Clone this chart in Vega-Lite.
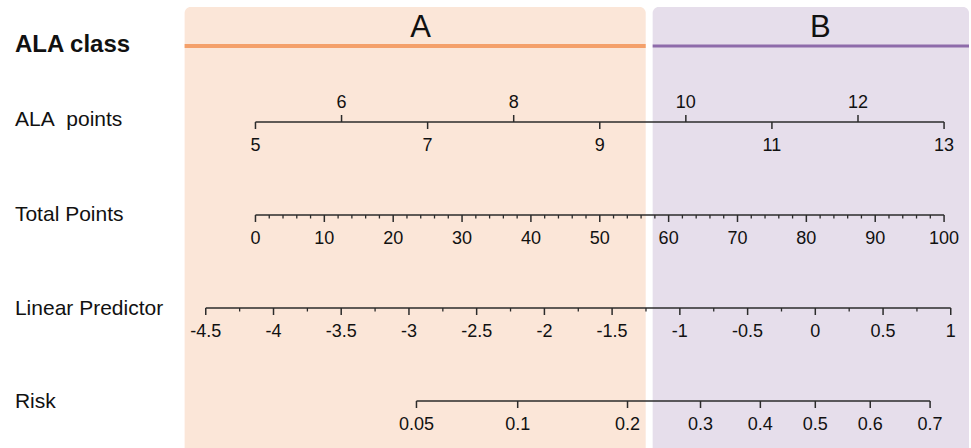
{
  "$schema": "https://vega.github.io/schema/vega-lite/v6.json",
  "width": 971,
  "height": 448,
  "autosize": {"type": "fit", "contains": "padding"},
  "padding": 0,
  "background": "white",
  "config": {"view": {"stroke": null}, "font": "Liberation Sans"},
  "datasets": {
    "panels": [
      {"cls": "A", "x0": -10.29, "x1": 56.67, "top": 0.07, "bottom": 4.48, "lx": 23.99, "ly": 0.37},
      {"cls": "B", "x0": 57.68, "x1": 103.62, "top": 0.07, "bottom": 4.48, "lx": 82.03, "ly": 0.37}
    ],
    "classlines": [
      {"cls": "A", "x0": -10.29, "x1": 56.67, "level": 0.46},
      {"cls": "B", "x0": 57.68, "x1": 103.62, "level": 0.46}
    ],
    "axislines": [
      {"axis": "ALA points", "x0": 0, "x1": 100, "level": 1.22},
      {"axis": "Total Points", "x0": 0, "x1": 100, "level": 2.15},
      {"axis": "Linear Predictor", "x0": -7.22, "x1": 100.97, "level": 3.08},
      {"axis": "Risk", "x0": 23.38, "x1": 97.97, "level": 4.01}
    ],
    "rowlabels": [
      {"name": "ALA class", "lx": -34.93, "level": 0.45},
      {"name": "ALA\u00a0 points", "lx": -34.93, "level": 1.2},
      {"name": "Total Points", "lx": -34.93, "level": 2.15},
      {"name": "Linear Predictor", "lx": -34.93, "level": 3.09},
      {"name": "Risk", "lx": -34.93, "level": 4.015}
    ],
    "ticks": [
      {"axis": "ALA points", "pos": 0, "level": 1.22, "kind": "down", "label": "5"},
      {"axis": "ALA points", "pos": 12.5, "level": 1.22, "kind": "up", "label": "6"},
      {"axis": "ALA points", "pos": 25, "level": 1.22, "kind": "down", "label": "7"},
      {"axis": "ALA points", "pos": 37.5, "level": 1.22, "kind": "up", "label": "8"},
      {"axis": "ALA points", "pos": 50, "level": 1.22, "kind": "down", "label": "9"},
      {"axis": "ALA points", "pos": 62.5, "level": 1.22, "kind": "up", "label": "10"},
      {"axis": "ALA points", "pos": 75, "level": 1.22, "kind": "down", "label": "11"},
      {"axis": "ALA points", "pos": 87.5, "level": 1.22, "kind": "up", "label": "12"},
      {"axis": "ALA points", "pos": 100, "level": 1.22, "kind": "down", "label": "13"},

      {"axis": "Total Points", "pos": 0, "level": 2.15, "kind": "down", "label": "0"},
      {"axis": "Total Points", "pos": 10, "level": 2.15, "kind": "down", "label": "10"},
      {"axis": "Total Points", "pos": 20, "level": 2.15, "kind": "down", "label": "20"},
      {"axis": "Total Points", "pos": 30, "level": 2.15, "kind": "down", "label": "30"},
      {"axis": "Total Points", "pos": 40, "level": 2.15, "kind": "down", "label": "40"},
      {"axis": "Total Points", "pos": 50, "level": 2.15, "kind": "down", "label": "50"},
      {"axis": "Total Points", "pos": 60, "level": 2.15, "kind": "down", "label": "60"},
      {"axis": "Total Points", "pos": 70, "level": 2.15, "kind": "down", "label": "70"},
      {"axis": "Total Points", "pos": 80, "level": 2.15, "kind": "down", "label": "80"},
      {"axis": "Total Points", "pos": 90, "level": 2.15, "kind": "down", "label": "90"},
      {"axis": "Total Points", "pos": 100, "level": 2.15, "kind": "down", "label": "100"},
      {"axis": "Total Points", "pos": 2, "level": 2.15, "kind": "minor", "label": ""},
      {"axis": "Total Points", "pos": 4, "level": 2.15, "kind": "minor", "label": ""},
      {"axis": "Total Points", "pos": 6, "level": 2.15, "kind": "minor", "label": ""},
      {"axis": "Total Points", "pos": 8, "level": 2.15, "kind": "minor", "label": ""},
      {"axis": "Total Points", "pos": 12, "level": 2.15, "kind": "minor", "label": ""},
      {"axis": "Total Points", "pos": 14, "level": 2.15, "kind": "minor", "label": ""},
      {"axis": "Total Points", "pos": 16, "level": 2.15, "kind": "minor", "label": ""},
      {"axis": "Total Points", "pos": 18, "level": 2.15, "kind": "minor", "label": ""},
      {"axis": "Total Points", "pos": 22, "level": 2.15, "kind": "minor", "label": ""},
      {"axis": "Total Points", "pos": 24, "level": 2.15, "kind": "minor", "label": ""},
      {"axis": "Total Points", "pos": 26, "level": 2.15, "kind": "minor", "label": ""},
      {"axis": "Total Points", "pos": 28, "level": 2.15, "kind": "minor", "label": ""},
      {"axis": "Total Points", "pos": 32, "level": 2.15, "kind": "minor", "label": ""},
      {"axis": "Total Points", "pos": 34, "level": 2.15, "kind": "minor", "label": ""},
      {"axis": "Total Points", "pos": 36, "level": 2.15, "kind": "minor", "label": ""},
      {"axis": "Total Points", "pos": 38, "level": 2.15, "kind": "minor", "label": ""},
      {"axis": "Total Points", "pos": 42, "level": 2.15, "kind": "minor", "label": ""},
      {"axis": "Total Points", "pos": 44, "level": 2.15, "kind": "minor", "label": ""},
      {"axis": "Total Points", "pos": 46, "level": 2.15, "kind": "minor", "label": ""},
      {"axis": "Total Points", "pos": 48, "level": 2.15, "kind": "minor", "label": ""},
      {"axis": "Total Points", "pos": 52, "level": 2.15, "kind": "minor", "label": ""},
      {"axis": "Total Points", "pos": 54, "level": 2.15, "kind": "minor", "label": ""},
      {"axis": "Total Points", "pos": 56, "level": 2.15, "kind": "minor", "label": ""},
      {"axis": "Total Points", "pos": 58, "level": 2.15, "kind": "minor", "label": ""},
      {"axis": "Total Points", "pos": 62, "level": 2.15, "kind": "minor", "label": ""},
      {"axis": "Total Points", "pos": 64, "level": 2.15, "kind": "minor", "label": ""},
      {"axis": "Total Points", "pos": 66, "level": 2.15, "kind": "minor", "label": ""},
      {"axis": "Total Points", "pos": 68, "level": 2.15, "kind": "minor", "label": ""},
      {"axis": "Total Points", "pos": 72, "level": 2.15, "kind": "minor", "label": ""},
      {"axis": "Total Points", "pos": 74, "level": 2.15, "kind": "minor", "label": ""},
      {"axis": "Total Points", "pos": 76, "level": 2.15, "kind": "minor", "label": ""},
      {"axis": "Total Points", "pos": 78, "level": 2.15, "kind": "minor", "label": ""},
      {"axis": "Total Points", "pos": 82, "level": 2.15, "kind": "minor", "label": ""},
      {"axis": "Total Points", "pos": 84, "level": 2.15, "kind": "minor", "label": ""},
      {"axis": "Total Points", "pos": 86, "level": 2.15, "kind": "minor", "label": ""},
      {"axis": "Total Points", "pos": 88, "level": 2.15, "kind": "minor", "label": ""},
      {"axis": "Total Points", "pos": 92, "level": 2.15, "kind": "minor", "label": ""},
      {"axis": "Total Points", "pos": 94, "level": 2.15, "kind": "minor", "label": ""},
      {"axis": "Total Points", "pos": 96, "level": 2.15, "kind": "minor", "label": ""},
      {"axis": "Total Points", "pos": 98, "level": 2.15, "kind": "minor", "label": ""},

      {"axis": "Linear Predictor", "pos": -7.22, "level": 3.08, "kind": "down", "label": "-4.5"},
      {"axis": "Linear Predictor", "pos": 2.62, "level": 3.08, "kind": "down", "label": "-4"},
      {"axis": "Linear Predictor", "pos": 12.45, "level": 3.08, "kind": "down", "label": "-3.5"},
      {"axis": "Linear Predictor", "pos": 22.29, "level": 3.08, "kind": "down", "label": "-3"},
      {"axis": "Linear Predictor", "pos": 32.12, "level": 3.08, "kind": "down", "label": "-2.5"},
      {"axis": "Linear Predictor", "pos": 41.96, "level": 3.08, "kind": "down", "label": "-2"},
      {"axis": "Linear Predictor", "pos": 51.79, "level": 3.08, "kind": "down", "label": "-1.5"},
      {"axis": "Linear Predictor", "pos": 61.63, "level": 3.08, "kind": "down", "label": "-1"},
      {"axis": "Linear Predictor", "pos": 71.47, "level": 3.08, "kind": "down", "label": "-0.5"},
      {"axis": "Linear Predictor", "pos": 81.3, "level": 3.08, "kind": "down", "label": "0"},
      {"axis": "Linear Predictor", "pos": 91.14, "level": 3.08, "kind": "down", "label": "0.5"},
      {"axis": "Linear Predictor", "pos": 100.97, "level": 3.08, "kind": "down", "label": "1"},
      {"axis": "Linear Predictor", "pos": -2.3, "level": 3.08, "kind": "minor", "label": ""},
      {"axis": "Linear Predictor", "pos": 7.54, "level": 3.08, "kind": "minor", "label": ""},
      {"axis": "Linear Predictor", "pos": 17.37, "level": 3.08, "kind": "minor", "label": ""},
      {"axis": "Linear Predictor", "pos": 27.21, "level": 3.08, "kind": "minor", "label": ""},
      {"axis": "Linear Predictor", "pos": 37.04, "level": 3.08, "kind": "minor", "label": ""},
      {"axis": "Linear Predictor", "pos": 46.88, "level": 3.08, "kind": "minor", "label": ""},
      {"axis": "Linear Predictor", "pos": 56.71, "level": 3.08, "kind": "minor", "label": ""},
      {"axis": "Linear Predictor", "pos": 66.55, "level": 3.08, "kind": "minor", "label": ""},
      {"axis": "Linear Predictor", "pos": 76.39, "level": 3.08, "kind": "minor", "label": ""},
      {"axis": "Linear Predictor", "pos": 86.22, "level": 3.08, "kind": "minor", "label": ""},
      {"axis": "Linear Predictor", "pos": 96.06, "level": 3.08, "kind": "minor", "label": ""},

      {"axis": "Risk", "pos": 23.38, "level": 4.01, "kind": "down", "label": "0.05"},
      {"axis": "Risk", "pos": 38.08, "level": 4.01, "kind": "down", "label": "0.1"},
      {"axis": "Risk", "pos": 54.03, "level": 4.01, "kind": "down", "label": "0.2"},
      {"axis": "Risk", "pos": 64.63, "level": 4.01, "kind": "down", "label": "0.3"},
      {"axis": "Risk", "pos": 73.32, "level": 4.01, "kind": "down", "label": "0.4"},
      {"axis": "Risk", "pos": 81.3, "level": 4.01, "kind": "down", "label": "0.5"},
      {"axis": "Risk", "pos": 89.28, "level": 4.01, "kind": "down", "label": "0.6"},
      {"axis": "Risk", "pos": 97.97, "level": 4.01, "kind": "down", "label": "0.7"}
    ]
  },
  "layer": [
    {
      "data": {"name": "panels"},
      "mark": {"type": "rect", "cornerRadiusTopLeft": 6, "cornerRadiusTopRight": 6},
      "encoding": {
        "x": {"field": "x0", "type": "quantitative", "scale": {"domain": [-37.1, 103.62], "nice": false, "zero": false}, "axis": null},
        "x2": {"field": "x1"},
        "y": {"field": "top", "type": "quantitative", "scale": {"domain": [0, 4.48], "reverse": true, "nice": false, "zero": false}, "axis": null},
        "y2": {"field": "bottom"},
        "fill": {"field": "cls", "type": "nominal", "scale": {"domain": ["A", "B"], "range": ["#FBE6D8", "#E6DEEB"]}, "legend": null}
      }
    },
    {
      "data": {"name": "panels"},
      "mark": {"type": "text", "fontSize": 31, "align": "center", "baseline": "alphabetic", "color": "#111111"},
      "encoding": {
        "x": {"field": "lx", "type": "quantitative", "scale": {"domain": [-37.1, 103.62], "nice": false, "zero": false}, "axis": null},
        "y": {"field": "ly", "type": "quantitative", "scale": {"domain": [0, 4.48], "reverse": true, "nice": false, "zero": false}, "axis": null},
        "text": {"field": "cls"}
      }
    },
    {
      "data": {"name": "classlines"},
      "mark": {"type": "rule"},
      "encoding": {
        "x": {"field": "x0", "type": "quantitative", "scale": {"domain": [-37.1, 103.62], "nice": false, "zero": false}, "axis": null},
        "x2": {"field": "x1"},
        "y": {"field": "level", "type": "quantitative", "scale": {"domain": [0, 4.48], "reverse": true, "nice": false, "zero": false}, "axis": null},
        "stroke": {"field": "cls", "type": "nominal", "scale": {"domain": ["A", "B"], "range": ["#F4A06A", "#8E6BAA"]}, "legend": null},
        "strokeWidth": {"field": "cls", "type": "nominal", "scale": {"domain": ["A", "B"], "range": [4, 3]}, "legend": null}
      }
    },
    {
      "data": {"name": "axislines"},
      "mark": {"type": "rule", "color": "#2B2B2B", "strokeWidth": 1.5},
      "encoding": {
        "x": {"field": "x0", "type": "quantitative", "scale": {"domain": [-37.1, 103.62], "nice": false, "zero": false}, "axis": null},
        "x2": {"field": "x1"},
        "y": {"field": "level", "type": "quantitative", "scale": {"domain": [0, 4.48], "reverse": true, "nice": false, "zero": false}, "axis": null}
      }
    },
    {
      "data": {"name": "ticks"},
      "transform": [{"filter": "datum.kind == 'down'"}],
      "mark": {"type": "tick", "orient": "vertical", "size": 7, "thickness": 1.5, "yOffset": 3.5, "color": "#2B2B2B", "opacity": 1},
      "encoding": {
        "x": {"field": "pos", "type": "quantitative", "scale": {"domain": [-37.1, 103.62], "nice": false, "zero": false}, "axis": null},
        "y": {"field": "level", "type": "quantitative", "scale": {"domain": [0, 4.48], "reverse": true, "nice": false, "zero": false}, "axis": null}
      }
    },
    {
      "data": {"name": "ticks"},
      "transform": [{"filter": "datum.kind == 'up'"}],
      "mark": {"type": "tick", "orient": "vertical", "size": 7, "thickness": 1.5, "yOffset": -3.5, "color": "#2B2B2B", "opacity": 1},
      "encoding": {
        "x": {"field": "pos", "type": "quantitative", "scale": {"domain": [-37.1, 103.62], "nice": false, "zero": false}, "axis": null},
        "y": {"field": "level", "type": "quantitative", "scale": {"domain": [0, 4.48], "reverse": true, "nice": false, "zero": false}, "axis": null}
      }
    },
    {
      "data": {"name": "ticks"},
      "transform": [{"filter": "datum.kind == 'minor'"}],
      "mark": {"type": "tick", "orient": "vertical", "size": 3.5, "thickness": 1.3, "yOffset": 1.75, "color": "#2B2B2B", "opacity": 1},
      "encoding": {
        "x": {"field": "pos", "type": "quantitative", "scale": {"domain": [-37.1, 103.62], "nice": false, "zero": false}, "axis": null},
        "y": {"field": "level", "type": "quantitative", "scale": {"domain": [0, 4.48], "reverse": true, "nice": false, "zero": false}, "axis": null}
      }
    },
    {
      "data": {"name": "ticks"},
      "transform": [{"filter": "datum.kind == 'down'"}],
      "mark": {"type": "text", "fontSize": 18, "align": "center", "baseline": "alphabetic", "dy": 29, "color": "#111111"},
      "encoding": {
        "x": {"field": "pos", "type": "quantitative", "scale": {"domain": [-37.1, 103.62], "nice": false, "zero": false}, "axis": null},
        "y": {"field": "level", "type": "quantitative", "scale": {"domain": [0, 4.48], "reverse": true, "nice": false, "zero": false}, "axis": null},
        "text": {"field": "label"}
      }
    },
    {
      "data": {"name": "ticks"},
      "transform": [{"filter": "datum.kind == 'up'"}],
      "mark": {"type": "text", "fontSize": 18, "align": "center", "baseline": "alphabetic", "dy": -14, "color": "#111111"},
      "encoding": {
        "x": {"field": "pos", "type": "quantitative", "scale": {"domain": [-37.1, 103.62], "nice": false, "zero": false}, "axis": null},
        "y": {"field": "level", "type": "quantitative", "scale": {"domain": [0, 4.48], "reverse": true, "nice": false, "zero": false}, "axis": null},
        "text": {"field": "label"}
      }
    },
    {
      "data": {"name": "rowlabels"},
      "transform": [{"filter": "datum.name == 'ALA class'"}],
      "mark": {"type": "text", "fontSize": 24, "fontWeight": "bold", "align": "left", "baseline": "middle", "color": "#111111"},
      "encoding": {
        "x": {"field": "lx", "type": "quantitative", "scale": {"domain": [-37.1, 103.62], "nice": false, "zero": false}, "axis": null},
        "y": {"field": "level", "type": "quantitative", "scale": {"domain": [0, 4.48], "reverse": true, "nice": false, "zero": false}, "axis": null},
        "text": {"field": "name"}
      }
    },
    {
      "data": {"name": "rowlabels"},
      "transform": [{"filter": "datum.name != 'ALA class'"}],
      "mark": {"type": "text", "fontSize": 21, "align": "left", "baseline": "middle", "color": "#111111"},
      "encoding": {
        "x": {"field": "lx", "type": "quantitative", "scale": {"domain": [-37.1, 103.62], "nice": false, "zero": false}, "axis": null},
        "y": {"field": "level", "type": "quantitative", "scale": {"domain": [0, 4.48], "reverse": true, "nice": false, "zero": false}, "axis": null},
        "text": {"field": "name"}
      }
    }
  ]
}
